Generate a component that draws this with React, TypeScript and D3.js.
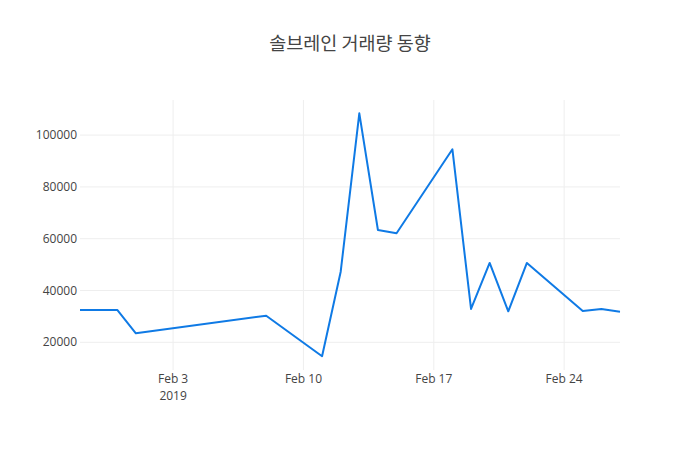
import * as d3 from 'd3';

// 솔브레인 daily trading volume
const dates = [
  '2019-01-29', '2019-01-31', '2019-02-01', '2019-02-08', '2019-02-11',
  '2019-02-12', '2019-02-13', '2019-02-14', '2019-02-15', '2019-02-18',
  '2019-02-19', '2019-02-20', '2019-02-21', '2019-02-22', '2019-02-25',
  '2019-02-26', '2019-02-27',
];
const volumes = [
  32470, 32470, 23480, 30270, 14600,
  47260, 108420, 63360, 62090, 94520,
  32860, 50620, 31970, 50620, 32090,
  32860, 31820,
];
const yTicks = [20000, 40000, 60000, 80000, 100000];
const xTickDates = ['2019-02-03', '2019-02-10', '2019-02-17', '2019-02-24'];

const parse = d3.timeParse('%Y-%m-%d');
const fmt = d3.timeFormat('%b %-d');

const App = () => {
  const width = 700;
  const height = 450;
  const margin = { top: 100, right: 80, bottom: 80, left: 80 };

  const data = dates.map((d, i) => ({ date: parse(d)!, value: volumes[i] }));

  const x = d3.scaleTime()
    .domain(d3.extent(data, d => d.date) as [Date, Date])
    .range([margin.left, width - margin.right]);

  const y = d3.scaleLinear()
    .domain([9300, 113550])
    .range([height - margin.bottom, margin.top]);

  const line = d3.line<{ date: Date; value: number }>()
    .x(d => x(d.date))
    .y(d => y(d.value));

  const font = '"Open Sans", "Noto Sans", sans-serif';

  return (
    <svg width={width} height={height} style={{ display: 'block', margin: -8, background: '#fff' }}>
      <text
        x={width / 2}
        y={50}
        textAnchor="middle"
        fontFamily='"Noto Sans CJK KR", sans-serif'
        fontSize={18.5}
        fill="#444"
      >
        솔브레인 거래량 동향
      </text>

      {/* grid */}
      {xTickDates.map(t => (
        <line
          key={t}
          x1={x(parse(t)!)}
          x2={x(parse(t)!)}
          y1={margin.top}
          y2={height - margin.bottom}
          stroke="#eee"
          strokeWidth={1}
        />
      ))}
      {yTicks.map(t => (
        <line
          key={t}
          x1={margin.left}
          x2={width - margin.right}
          y1={y(t)}
          y2={y(t)}
          stroke="#eee"
          strokeWidth={1}
        />
      ))}

      {/* y tick labels */}
      {yTicks.map(t => (
        <text
          key={t}
          x={margin.left - 3}
          y={y(t)}
          dy="0.35em"
          textAnchor="end"
          fontFamily={font}
          fontSize={12}
          fill="#444"
        >
          {t}
        </text>
      ))}

      {/* x tick labels */}
      {xTickDates.map((t, i) => (
        <text
          key={t}
          x={x(parse(t)!)}
          y={height - margin.bottom + 13}
          textAnchor="middle"
          fontFamily={font}
          fontSize={12}
          fill="#444"
        >
          {fmt(parse(t)!)}
          {i === 0 && (
            <tspan x={x(parse(t)!)} dy={17}>
              2019
            </tspan>
          )}
        </text>
      ))}

      <path
        d={line(data) ?? ''}
        fill="none"
        stroke="#0f7ae5"
        strokeWidth={2}
        strokeLinejoin="round"
      />
    </svg>
  );
};

export default App;
